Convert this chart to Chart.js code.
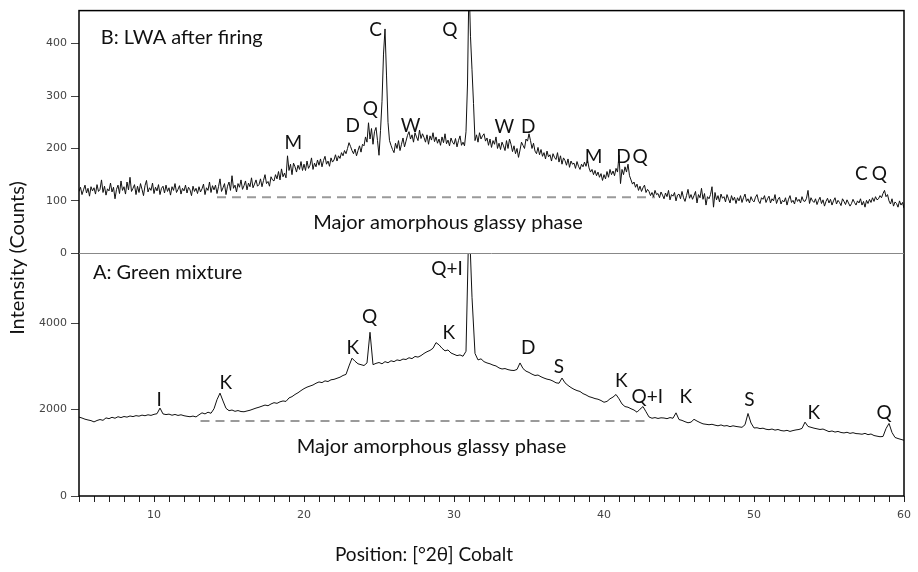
<!DOCTYPE html>
<html>
<head>
<meta charset="utf-8">
<script src="https://cdn.jsdelivr.net/npm/chart.js@4.4.1/dist/chart.umd.min.js"></script>
<style>
  html, body { margin: 0; padding: 0; background: #fff; }
  #wrap { width: 918px; height: 572px; }
</style>
</head>
<body>
<div id="wrap"><canvas id="xrdChart"></canvas></div>
<script>
// scan grid: start angle and step of each pattern (°2θ)
const scanStart = 5;
const firedStep = 0.1;
const greenStep = 0.2;

// B: LWA after firing, counts, one row per degree
const firedCounts = [
  118,126,112,121,130,115,124,109,127,119,
  125,113,131,118,122,140,116,128,111,123,
  119,134,117,126,104,122,130,114,138,120,
  127,113,136,121,145,118,124,131,112,128,
  116,133,122,110,129,139,117,125,120,134,
  114,126,119,131,112,124,128,115,130,118,
  125,111,127,120,133,116,122,129,113,124,
  119,130,115,126,121,110,128,118,124,114,
  127,117,123,132,112,125,120,136,116,129,
  121,130,114,127,142,118,125,133,112,128,
  136,120,148,124,130,117,133,126,140,122,
  129,138,121,134,127,144,125,132,140,128,
  131,142,127,139,150,133,137,128,146,140,
  138,150,142,156,140,161,146,153,144,186,
  158,170,150,172,165,155,168,160,175,158,
  170,158,176,162,168,182,160,172,165,178,
  168,180,165,177,185,170,176,166,182,174,
  178,188,176,186,181,192,186,196,190,200,
  211,204,196,190,199,186,196,205,193,208,
  205,222,212,249,218,238,208,232,240,215,
  187,234,290,380,428,340,250,215,206,198,
  192,210,200,215,196,208,220,203,214,225,
  232,218,226,212,230,222,215,235,219,228,
  221,212,226,208,224,216,230,213,222,210,
  218,206,222,211,228,209,216,205,220,212,
  208,219,203,215,224,206,212,205,232,323,
  520,413,350,286,215,226,212,230,218,224,
  228,214,220,206,218,202,215,208,222,200,
  210,198,212,205,196,215,200,218,208,194,
  205,190,200,183,197,212,206,200,218,214,
  228,215,200,210,195,190,202,188,198,185,
  192,180,195,184,188,176,190,183,179,192,
  174,186,170,182,177,168,180,164,176,170,
  172,162,175,166,160,170,165,174,166,178,
  163,155,160,150,158,148,155,145,152,139,
  150,142,156,145,160,150,157,148,162,155,
  187,133,160,150,165,155,170,148,140,132,
  136,126,132,120,128,118,125,130,116,122,
  118,110,116,108,120,112,114,106,117,111,
  104,115,108,120,102,112,109,116,100,111,
  113,104,118,106,99,110,122,105,112,103,
  110,118,96,112,106,124,103,114,92,108,
  104,112,127,88,116,102,110,98,113,105,
  108,98,112,104,96,110,101,107,95,106,
  100,110,97,106,113,99,104,96,108,101,
  98,107,112,100,95,106,103,110,97,104,
  109,96,104,100,112,95,103,107,94,101,
  98,106,92,103,110,97,101,94,107,99,
  103,96,108,100,99,105,120,95,106,100,
  97,104,93,101,107,95,102,90,99,105,
  96,103,92,100,106,94,101,97,91,104,
  99,93,102,96,90,95,103,97,92,100,
  96,104,92,99,88,101,95,103,97,106,
  99,108,102,104,110,106,114,120,108,112,
  100,94,104,90,98,95,88,100,92,97,
  86
];

// A: Green mixture, counts, one row per degree
const greenCounts = [
  1827,1805,1778,1760,1745,
  1715,1748,1770,1752,1808,
  1790,1822,1800,1835,1815,
  1840,1826,1852,1838,1860,
  1848,1872,1858,1880,1866,
  1890,1905,2035,1900,1885,
  1895,1870,1888,1865,1880,
  1858,1845,1835,1850,1830,
  1880,1925,1900,1940,1915,
  2020,2230,2381,2200,2030,
  1975,1990,1960,1978,1955,
  1950,1968,1985,2010,2035,
  2055,2080,2105,2090,2130,
  2160,2145,2180,2200,2190,
  2270,2300,2350,2390,2440,
  2485,2520,2545,2570,2610,
  2640,2625,2665,2650,2690,
  2700,2725,2750,2790,2815,
  3010,3190,3120,3060,3040,
  3020,3080,3790,3040,3070,
  3090,3060,3110,3085,3130,
  3110,3150,3135,3170,3160,
  3200,3180,3230,3215,3250,
  3300,3340,3370,3420,3550,
  3500,3420,3360,3380,3310,
  3280,3250,3265,3235,3350,
  6500,4600,3300,3150,3175,
  3110,3080,3060,3030,3010,
  2965,2940,2950,2925,2910,
  2905,2930,3080,2950,2890,
  2860,2820,2790,2800,2760,
  2730,2705,2690,2660,2620,
  2610,2730,2620,2560,2510,
  2470,2440,2420,2370,2340,
  2300,2280,2255,2240,2210,
  2170,2190,2250,2290,2350,
  2250,2130,2070,2055,2020,
  1990,1940,2010,2070,1950,
  1830,1800,1815,1795,1810,
  1805,1790,1815,1800,1925,
  1770,1750,1720,1695,1710,
  1775,1735,1700,1670,1660,
  1650,1660,1640,1625,1645,
  1620,1630,1605,1625,1610,
  1600,1590,1650,1910,1690,
  1575,1580,1560,1570,1545,
  1535,1550,1525,1540,1515,
  1505,1520,1495,1515,1530,
  1540,1565,1710,1610,1590,
  1570,1555,1540,1550,1520,
  1490,1505,1480,1495,1470,
  1460,1475,1450,1465,1445,
  1440,1430,1450,1420,1435,
  1400,1385,1372,1378,1560,
  1680,1470,1355,1330,1310,
  1290
];

const firedTheta = firedCounts.map((_, i) => +(scanStart + i * firedStep).toFixed(1));
const greenTheta = greenCounts.map((_, i) => +(scanStart + i * greenStep).toFixed(1));

// axis ticks
const firedTicks = [0, 100, 200, 300, 400];
const greenTicks = [0, 2000, 4000];
const firedMax = 463;
const greenMax = 5618;

// phase labels
const firedPeakText   = ['M', 'D', 'Q', 'C', 'W', 'Q', 'W', 'D', 'M', 'D', 'Q', 'C', 'Q'];
const firedPeakTheta  = [19.28, 23.25, 24.43, 24.77, 27.1, 29.72, 33.36, 34.95, 39.3, 41.29, 42.4, 57.16, 58.35];
const firedPeakCounts = [211, 244, 276, 427, 244, 427, 242, 242, 183, 183, 183, 152, 152];

const greenPeakText   = ['I', 'K', 'K', 'Q', 'K', 'Q+I', 'D', 'S', 'K', 'Q+I', 'K', 'S', 'K', 'Q'];
const greenPeakTheta  = [10.35, 14.78, 23.25, 24.37, 29.66, 29.53, 34.95, 37.0, 41.16, 42.88, 45.46, 49.69, 53.99, 58.68];
const greenPeakCounts = [2220, 2613, 3422, 4139, 3769, 5249, 3422, 2983, 2659, 2289, 2289, 2220, 1919, 1919];

// amorphous hump baseline (dashed) and its caption
const firedGlassyTheta  = [14.2, 43.4];
const firedGlassyCounts = [107, 107];
const greenGlassyTheta  = [13.1, 43.1];
const greenGlassyCounts = [1734, 1734];
const glassyCaption = 'Major amorphous glassy phase';
const firedCaptionAt = [29.6, 59];
const greenCaptionAt = [28.5, 1156];

const firedTitle = 'B: LWA after firing';
const firedTitleAt = [6.45, 411];
const greenTitle = 'A: Green mixture';
const greenTitleAt = [5.93, 5179];

function points(xs, ys) {
  return xs.map((x, i) => ({ x: x, y: ys[i] }));
}

const textFont = 'Lato, "Open Sans", sans-serif';

const xrdText = {
  id: 'xrdText',
  afterDatasetsDraw(chart) {
    const { ctx, chartArea: area, scales } = chart;
    const sx = scales.x, yF = scales.yFired, yG = scales.yGreen;
    ctx.save();

    // frame and panel divider
    ctx.strokeStyle = '#000';
    ctx.lineWidth = 1.5;
    ctx.strokeRect(area.left, area.top, area.right - area.left, area.bottom - area.top);
    ctx.strokeStyle = '#888';
    ctx.lineWidth = 1;
    ctx.beginPath();
    ctx.moveTo(area.left, Math.round(yF.bottom) + 0.5);
    ctx.lineTo(area.right, Math.round(yF.bottom) + 0.5);
    ctx.stroke();

    ctx.fillStyle = '#111';
    ctx.textBaseline = 'middle';
    ctx.font = '19px ' + textFont;
    ctx.textAlign = 'center';
    firedPeakText.forEach((t, i) => {
      ctx.fillText(t, sx.getPixelForValue(firedPeakTheta[i]), yF.getPixelForValue(firedPeakCounts[i]));
    });
    greenPeakText.forEach((t, i) => {
      ctx.fillText(t, sx.getPixelForValue(greenPeakTheta[i]), yG.getPixelForValue(greenPeakCounts[i]));
    });

    ctx.font = '20px ' + textFont;
    ctx.fillText(glassyCaption, sx.getPixelForValue(firedCaptionAt[0]), yF.getPixelForValue(firedCaptionAt[1]));
    ctx.fillText(glassyCaption, sx.getPixelForValue(greenCaptionAt[0]), yG.getPixelForValue(greenCaptionAt[1]));

    ctx.textAlign = 'left';
    ctx.fillText(firedTitle, sx.getPixelForValue(firedTitleAt[0]), yF.getPixelForValue(firedTitleAt[1]));
    ctx.fillText(greenTitle, sx.getPixelForValue(greenTitleAt[0]), yG.getPixelForValue(greenTitleAt[1]));

    // axis titles
    ctx.textAlign = 'center';
    ctx.font = '19px ' + textFont;
    ctx.fillText('Position: [°2θ] Cobalt', 424, 555);
    ctx.font = '20px ' + textFont;
    ctx.translate(18, 258);
    ctx.rotate(-Math.PI / 2);
    ctx.fillText('Intensity (Counts)', 0, 0);

    ctx.restore();
  }
};

const tickFont = { family: '"DejaVu Sans", sans-serif', size: 11 };

new Chart(document.getElementById('xrdChart'), {
  type: 'line',
  data: {
    datasets: [
      {
        label: 'A: Green mixture',
        data: points(greenTheta, greenCounts),
        yAxisID: 'yGreen',
        borderColor: '#111',
        borderWidth: 1,
        pointRadius: 0,
        tension: 0
      },
      {
        label: 'B: LWA after firing',
        data: points(firedTheta, firedCounts),
        yAxisID: 'yFired',
        borderColor: '#111',
        borderWidth: 1,
        pointRadius: 0,
        tension: 0
      },
      {
        label: 'glassy A',
        data: points(greenGlassyTheta, greenGlassyCounts),
        yAxisID: 'yGreen',
        borderColor: '#9a9a9a',
        borderWidth: 2,
        borderDash: [9, 6],
        pointRadius: 0
      },
      {
        label: 'glassy B',
        data: points(firedGlassyTheta, firedGlassyCounts),
        yAxisID: 'yFired',
        borderColor: '#9a9a9a',
        borderWidth: 2,
        borderDash: [9, 6],
        pointRadius: 0
      }
    ]
  },
  options: {
    responsive: true,
    maintainAspectRatio: false,
    animation: false,
    layout: { padding: { top: 10, right: 7, left: 0, bottom: 0 } },
    plugins: {
      legend: { display: false },
      tooltip: { enabled: false }
    },
    scales: {
      x: {
        type: 'linear',
        min: 5,
        max: 60,
        afterFit(scale) { scale.height = 76; },
        border: { display: false },
        grid: { drawOnChartArea: false, tickLength: 6, color: '#222' },
        ticks: {
          stepSize: 1,
          autoSkip: false,
          maxRotation: 0,
          padding: 7,
          color: '#444',
          font: tickFont,
          callback: v => (v % 10 === 0 ? String(v) : '')
        }
      },
      yGreen: {
        type: 'linear',
        position: 'left',
        stack: 'xrd',
        stackWeight: 1,
        min: 0,
        max: greenMax,
        afterFit(scale) { scale.width = 79; },
        afterBuildTicks(scale) { scale.ticks = greenTicks.map(v => ({ value: v })); },
        border: { display: false },
        grid: { drawOnChartArea: false, tickLength: 8, color: '#444' },
        ticks: { padding: 4, color: '#444', font: tickFont, callback: v => String(v) }
      },
      yFired: {
        type: 'linear',
        position: 'left',
        stack: 'xrd',
        stackWeight: 1,
        min: 0,
        max: firedMax,
        afterFit(scale) { scale.width = 79; },
        afterBuildTicks(scale) { scale.ticks = firedTicks.map(v => ({ value: v })); },
        border: { display: false },
        grid: { drawOnChartArea: false, tickLength: 8, color: '#444' },
        ticks: { padding: 4, color: '#444', font: tickFont, callback: v => String(v) }
      }
    }
  },
  plugins: [xrdText]
});
</script>
</body>
</html>
